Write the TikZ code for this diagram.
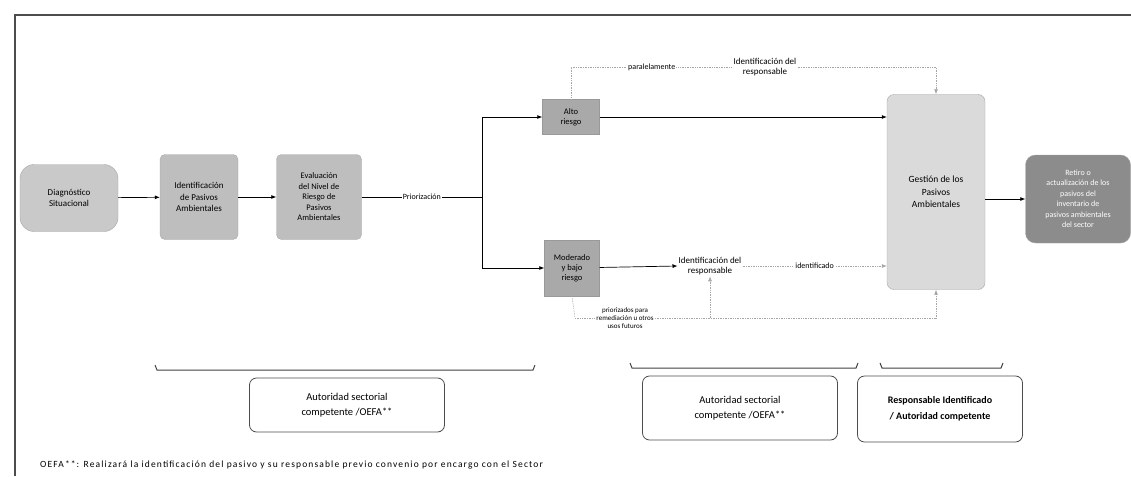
\documentclass[tikz,border=0pt]{standalone}
\usepackage{fontspec}
\setmainfont{Carlito}
\usetikzlibrary{arrows.meta,positioning}
\definecolor{gA}{HTML}{C9C9C9}
\definecolor{gB}{HTML}{BEBEBE}
\definecolor{gC}{HTML}{A9A9A9}
\definecolor{gD}{HTML}{DADADA}
\definecolor{gE}{HTML}{8C8C8C}
\tikzset{
  proc/.style={draw=gray!70, fill=gB, rounded corners=5pt, align=center, font=\fontsize{9}{11.5}\selectfont, inner sep=2pt},
  risk/.style={draw=gray!80, fill=gC, align=center, font=\fontsize{8.5}{10}\selectfont, inner sep=1pt},
  plain/.style={align=center, font=\fontsize{9}{10.5}\selectfont, inner sep=1pt},
  lab/.style={align=center, font=\fontsize{8}{9}\selectfont, fill=white, inner sep=1pt},
  authbox/.style={draw=black!70, rounded corners=7pt, align=center, font=\fontsize{10.5}{15}\selectfont, thick},
  arr/.style={-{Latex[length=5pt,width=4pt]}, line width=0.7pt},
  dott/.style={densely dotted, draw=gray!70, line width=0.7pt},
  darr/.style={dott, -{Latex[length=5pt,width=4pt]}},
  brace/.style={line width=1pt, draw=black!75},
}
\begin{document}
\begin{tikzpicture}[x=1pt,y=-1pt]
\useasboundingbox (0,0) rectangle (1131,476);
% frame
\draw[line width=1.5pt, black!70] (15,476) -- (15,15) -- (1131,15);

% nodes
\node[proc, fill=gA, rounded corners=14pt, minimum width=98pt, minimum height=67pt] (diag) at (69,198) {Diagnóstico\\Situacional};
\node[proc, minimum width=78pt, minimum height=85pt] (ident) at (199,197) {Identificación\\de Pasivos\\Ambientales};
\node[proc, minimum width=85pt, minimum height=85pt, font=\fontsize{8.5}{10.5}\selectfont] (eval) at (319,197) {Evaluación\\del Nivel de\\Riesgo de\\Pasivos\\Ambientales};
\coordinate (split) at (482,197);
\node[risk, minimum width=57pt, minimum height=35pt] (alto) at (571,117) {Alto\\riesgo};
\node[risk, minimum width=55pt, minimum height=56pt] (mod) at (572,268) {Moderado\\y bajo\\riesgo};
\node[proc, fill=gD, rounded corners=7pt, minimum width=98pt, minimum height=195pt, font=\fontsize{9.5}{12.5}\selectfont] (gest) at (936,192) {Gestión de los\\Pasivos\\Ambientales};
\node[proc, fill=gE, text=white, rounded corners=10pt, minimum width=105pt, minimum height=88pt, font=\fontsize{8}{10.5}\selectfont] (fin) at (1078,199) {Retiro o\\actualización de los\\pasivos del\\inventario de\\pasivos ambientales\\del sector};
\node[plain] (idtop) at (765,67) {Identificación del\\responsable};
\node[plain] (idbot) at (710,266) {Identificación del\\responsable};

% main flow
\draw[arr] (diag) -- (ident);
\draw[arr] (ident) -- (eval);
\draw[line width=0.7pt] (eval) -- node[lab]{Priorización} (split);
\draw[line width=0.7pt] (482,117) -- (482,268);
\draw[arr] (482,117) -- (alto);
\draw[arr] (482,268) -- (mod);
\draw[arr] (alto) -- (alto -| gest.west);
\draw[arr] (mod) -- (idbot.west);
\draw[darr] (idbot.east) -- node[lab]{identificado} (idbot.east -| gest.west);
\draw[arr] (gest.east |- fin) -- (fin);

% top dotted path
\draw[dott] (alto.north) -- (571,67) -- node[lab]{paralelamente} (idtop.west);
\draw[darr] (idtop.east) -- (936,67) -- (gest.north);

% bottom dotted path
\coordinate (bl) at (575,318);
\draw[dott] (mod.south) -- (bl);
\draw[darr] (bl) -- (936,318) -- (gest.south);
\draw[darr] (710,318) -- (idbot.south);
\node[lab, font=\fontsize{7}{8}\selectfont] (prio) at (625,318) {priorizados para\\remediación u otros\\usos futuros};

% braces
\draw[brace] (155,365) -- (157,370) -- (533,370) -- (535,365);
\draw[brace] (630,363) -- (632,368) -- (856,368) -- (858,363);
\draw[brace] (880,363) -- (882,368) -- (1001,368) -- (1003,363);

% authority boxes
\node[authbox, minimum width=195pt, minimum height=54pt] (a1) at (347,405) {Autoridad sectorial\\competente /OEFA**};
\node[authbox, minimum width=195pt, minimum height=64pt] (a2) at (740,408) {Autoridad sectorial\\competente /OEFA**};
\node[authbox, minimum width=165pt, minimum height=66pt, font=\bfseries\fontsize{10}{16}\selectfont] (a3) at (940,409) {Responsable Identificado\\/ Autoridad competente};

% footnote
\node[anchor=west, font=\fontsize{9.5}{10}\selectfont\addfontfeatures{LetterSpace=12}, inner sep=0pt] (foot) at (40,465) {OEFA**: Realizará la identificación del pasivo y su responsable previo convenio por encargo con el Sector};
\end{tikzpicture}
\end{document}
